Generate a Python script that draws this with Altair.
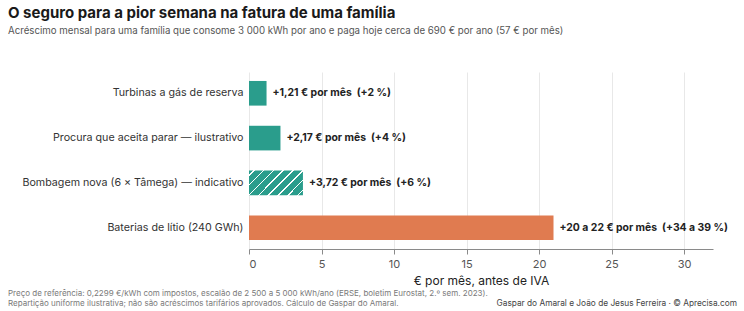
import altair as alt
import pandas as pd

# --- data -------------------------------------------------------------
categories = [
    "Turbinas a gás de reserva",
    "Procura que aceita parar — ilustrativo",
    "Bombagem nova (6 × Tâmega) — indicativo",
    "Baterias de lítio (240 GWh)",
]
values = [1.21, 2.17, 3.72, 21.0]  # € per month (batteries: midpoint of 20–22)
labels = [
    "+1,21 € por mês \u00a0(+2 %)",
    "+2,17 € por mês \u00a0(+4 %)",
    "+3,72 € por mês \u00a0(+6 %)",
    "+20 a 22 € por mês \u00a0(+34 a 39 %)",
]
kinds = ["firme", "firme", "indicativo", "baterias"]

footer_left = [
    "Preço de referência: 0,2299 €/kWh com impostos, escalão de 2 500 a 5 000 kWh/ano (ERSE, boletim Eurostat, 2.º sem. 2023).",
    "Repartição uniforme ilustrativa; não são acréscimos tarifários aprovados. Cálculo de Gaspar do Amaral.",
]
footer_right = "Gaspar do Amaral e João de Jesus Ferreira · © Aprecisa.com"

TEAL = "#2a9d8c"
ORANGE = "#e07b50"
FONT = "Inter"

df = pd.DataFrame({"cat": categories, "val": values, "label": labels, "kind": kinds})

# diagonal white hatching for the indicative bar, built as a hard-stop gradient
stops = [alt.GradientStop(offset=0, color=TEAL)]
n_stripes = 8
for k in range(n_stripes):
    c = k / n_stripes + 0.06
    lo, hi = max(c - 0.01, 0), min(c + 0.01, 1)
    stops += [
        alt.GradientStop(offset=lo, color=TEAL),
        alt.GradientStop(offset=lo, color="white"),
        alt.GradientStop(offset=hi, color="white"),
        alt.GradientStop(offset=hi, color=TEAL),
    ]
stops.append(alt.GradientStop(offset=1, color=TEAL))
hatch = alt.LinearGradient(gradient="linear", stops=stops, x1=0, y1=0, x2=1.205, y2=0.548)

W, H = 464, 177

y_enc = alt.Y(
    "cat:N",
    sort=categories,
    title=None,
    scale=alt.Scale(paddingInner=0.45, paddingOuter=0.2),
    axis=alt.Axis(
        domain=False, ticks=False, labelFontSize=10.7, labelColor="#333",
        labelFont=FONT, labelPadding=6, labelLimit=320,
    ),
)
x_enc = alt.X(
    "val:Q",
    scale=alt.Scale(domain=[0, 32], nice=False),
    title="€ por mês, antes de IVA",
    axis=alt.Axis(
        values=[0, 5, 10, 15, 20, 25, 30], grid=True, gridColor="#e8e8e8",
        domainColor="#8a8a8a", tickColor="#8a8a8a", tickSize=5,
        labelFontSize=11, labelColor="#555", labelFont=FONT, labelPadding=4,
        titleFontSize=12, titleFont=FONT, titleFontWeight="normal",
        titleColor="#222", titlePadding=6,
    ),
)

base = alt.Chart(df)

solid = base.transform_filter(alt.datum.kind != "indicativo").mark_bar().encode(
    y=y_enc,
    x=x_enc,
    color=alt.Color(
        "kind:N",
        scale=alt.Scale(domain=["firme", "baterias"], range=[TEAL, ORANGE]),
        legend=None,
    ),
)

hatched = base.transform_filter(alt.datum.kind == "indicativo").mark_bar().encode(
    y=alt.Y("cat:N", sort=categories),
    x="val:Q",
    fill=alt.value(hatch),
)

text = base.mark_text(
    align="left", baseline="middle", dx=6, fontSize=10.4, fontWeight="bold",
    font=FONT, color="#222",
).encode(y=alt.Y("cat:N", sort=categories), x="val:Q", text="label:N")

foot_df = pd.DataFrame({"t": footer_left, "row": [0, 1]})
foot_l = alt.Chart(foot_df).mark_text(
    align="left", baseline="middle", fontSize=8, font=FONT, color="#7a7a7a",
).encode(x=alt.value(-241), y=alt.value(222), text="t:N").transform_filter(alt.datum.row == 0)
foot_l2 = alt.Chart(foot_df).mark_text(
    align="left", baseline="middle", fontSize=8, font=FONT, color="#7a7a7a",
).encode(x=alt.value(-241), y=alt.value(232), text="t:N").transform_filter(alt.datum.row == 1)

foot_r = alt.Chart(pd.DataFrame({"t": [footer_right]})).mark_text(
    align="right", baseline="middle", fontSize=8.3, font=FONT, color="#444",
).encode(x=alt.value(488), y=alt.value(232), text="t:N")

chart = (
    alt.layer(solid, hatched, text, foot_l, foot_l2, foot_r)
    .resolve_scale(color="independent")
    .properties(
        width=W,
        height=H,
        autosize=alt.AutoSizeParams(type="none"),
        padding={"left": 249, "top": 72, "right": 744 - 249 - W, "bottom": 311 - 72 - H},
        title=alt.TitleParams(
            text="O seguro para a pior semana na fatura de uma família",
            subtitle="Acréscimo mensal para uma família que consome 3 000 kWh por ano e paga hoje cerca de 690 € por ano (57 € por mês)",
            anchor="start",
            frame="group",
            dx=-241,
            offset=36,
            font=FONT,
            fontSize=15,
            fontWeight="bold",
            color="#1a1a1a",
            subtitleFont=FONT,
            subtitleFontSize=9.7,
            subtitleColor="#555",
            subtitlePadding=5,
        ),
    )
    .configure_view(stroke=None)
)

chart.save("out.html", embed_options={"renderer": "svg", "actions": False})
